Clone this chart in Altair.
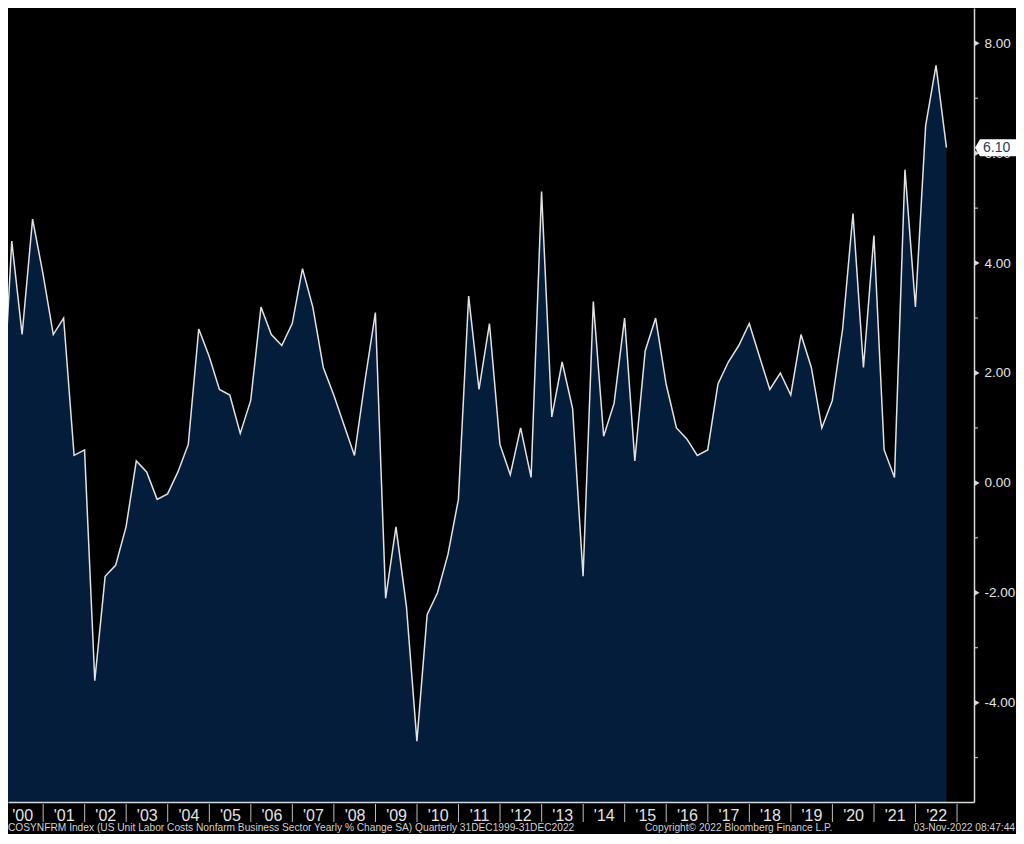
import altair as alt
import pandas as pd

# ---------------- data ----------------
quarters = pd.period_range("1999Q4", periods=92, freq="Q")
dates = [p.end_time.strftime("%Y-%m-%d") for p in quarters]

values = [
    0.9, 4.4, 2.7, 4.8,      # 1999Q4, 2000Q1-Q3
    3.8, 2.7, 3.0, 0.5,      # 2000Q4, 2001Q1-Q3
    0.6, -3.6, -1.7, -1.5,   # 2001Q4, 2002Q1-Q3
    -0.8, 0.4, 0.2, -0.3,    # 2002Q4, 2003Q1-Q3
    -0.2, 0.2, 0.7, 2.8,     # 2003Q4, 2004Q1-Q3
    2.3, 1.7, 1.6, 0.9,      # 2004Q4, 2005Q1-Q3
    1.5, 3.2, 2.7, 2.5,      # 2005Q4, 2006Q1-Q3
    2.9, 3.9, 3.2, 2.1,      # 2006Q4, 2007Q1-Q3
    1.6, 1.05, 0.5, 1.85,    # 2007Q4, 2008Q1-Q3
    3.1, -2.1, -0.8, -2.25,  # 2008Q4, 2009Q1-Q3
    -4.7, -2.4, -2.0, -1.3,  # 2009Q4, 2010Q1-Q3
    -0.3, 3.4, 1.7, 2.9,     # 2010Q4, 2011Q1-Q3
    0.7, 0.15, 1.0, 0.1,     # 2011Q4, 2012Q1-Q3
    5.3, 1.2, 2.2, 1.35,     # 2012Q4, 2013Q1-Q3
    -1.7, 3.3, 0.85, 1.45,   # 2013Q4, 2014Q1-Q3
    3.0, 0.4, 2.4, 3.0,      # 2014Q4, 2015Q1-Q3
    1.8, 1.0, 0.8, 0.5,      # 2015Q4, 2016Q1-Q3
    0.6, 1.8, 2.2, 2.5,      # 2016Q4, 2017Q1-Q3
    2.9, 2.3, 1.7, 2.0,      # 2017Q4, 2018Q1-Q3
    1.6, 2.7, 2.1, 1.0,      # 2018Q4, 2019Q1-Q3
    1.5, 2.8, 4.9, 2.1,      # 2019Q4, 2020Q1-Q3
    4.5, 0.6, 0.1, 5.7,      # 2020Q4, 2021Q1-Q3
    3.2, 6.5, 7.6, 6.1,      # 2021Q4, 2022Q1-Q3
]

year_starts = [f"{y}-01-01" for y in range(2001, 2024)]
label_years = list(range(2000, 2023))
major_ticks = [-4, -2, 0, 2, 4, 6, 8]
minor_ticks = [-5, -3, -1, 1, 3, 5, 7]
last_label = "6.10"

footer_left = ("COSYNFRM Index (US Unit Labor Costs Nonfarm Business Sector Yearly % Change SA)"
               "  Quarterly 31DEC1999-31DEC2022")
footer_mid = "Copyright\u00a9 2022 Bloomberg Finance L.P."
footer_right = "03-Nov-2022 08:47:44"

df = pd.DataFrame({"date": dates, "value": values})

# ---------------- layout / style ----------------
W, H = 966, 794
Y_MIN, Y_MAX = -5.807, 8.642
FONT = "Liberation Sans"
AREA = "#031d3a"
LINE = "#e2e2e2"
AXIS = "#d9d9d9"
TXT = "#e4e4e4"

x_scale = alt.Scale(
    type="utc",
    domain=[alt.DateTime(year=2000, month=2, date=27, utc=True),
            alt.DateTime(year=2023, month=5, date=30, utc=True)],
)
y_scale = alt.Scale(domain=[Y_MIN, Y_MAX], nice=False, zero=False)

x_axis = alt.Axis(
    values=[alt.DateTime(year=y, month=7, date=1, utc=True) for y in label_years],
    format="'%y", title=None, orient="bottom", grid=False,
    ticks=False, domainColor=AXIS, domainWidth=1.5,
    labelColor=TXT, labelFont=FONT, labelFontSize=16, labelPadding=13,
    labelBaseline="middle", labelAlign="center", labelOverlap=False,
    labelFlush=False, labelBound=False, zindex=1,
)
y_axis = alt.Axis(
    values=major_ticks, title=None, orient="right", grid=False,
    labelExpr="(datum.value < 0 ? '-' : '') + format(abs(datum.value), '.2f')",
    ticks=False, domainColor=AXIS, domainWidth=1.5,
    labelColor=TXT, labelFont=FONT, labelFontSize=13.5, labelPadding=10,
    labelBaseline="middle", labelAlign="left", labelOverlap=False,
    labelFlush=False, labelBound=False, zindex=0,
)

X = alt.X("date:T", scale=x_scale, axis=x_axis)

area = alt.Chart(df).mark_area(color=AREA, clip=True, opacity=1).encode(
    x=X,
    y=alt.Y("value:Q", scale=y_scale, axis=y_axis),
    y2=alt.datum(Y_MIN),
)

line = alt.Chart(df).mark_line(color=LINE, strokeWidth=1.5, clip=True).encode(
    x=X,
    y=alt.Y("value:Q", scale=y_scale, axis=y_axis),
)

separators = alt.Chart(pd.DataFrame({"date": year_starts})).mark_rule(
    color="#bdbdbd", strokeWidth=1
).encode(
    x=X,
    y=alt.value(H + 2),
    y2=alt.value(H + 20),
)

minor = alt.Chart(pd.DataFrame({"value": minor_ticks})).mark_rule(
    color=AXIS, strokeWidth=1
).encode(
    y=alt.Y("value:Q", scale=y_scale, axis=y_axis),
    x=alt.value(W),
    x2=alt.value(W + 4),
)

major = alt.Chart(pd.DataFrame({"value": major_ticks})).mark_point(
    shape="triangle-right", filled=True, color=AXIS, size=36, opacity=1
).encode(
    y=alt.Y("value:Q", scale=y_scale, axis=y_axis),
    x=alt.value(W + 3),
)

last_df = pd.DataFrame({"value": [values[-1]], "label": [last_label]})
box = alt.Chart(last_df).mark_point(
    shape="M0,0L0.5,-0.85L5,-0.85L5,0.85L0.5,0.85Z",
    filled=True, color="#ffffff", size=400, opacity=1, strokeWidth=0,
).encode(
    y=alt.Y("value:Q", scale=y_scale, axis=y_axis),
    x=alt.value(W + 1),
)
box_text = alt.Chart(last_df).mark_text(
    align="left", baseline="middle", font=FONT, fontSize=14, color="#1d3b66"
).encode(
    y=alt.Y("value:Q", scale=y_scale, axis=y_axis),
    x=alt.value(W + 9),
    text="label:N",
)

foot_l = alt.Chart(pd.DataFrame({"t": [footer_left]})).mark_text(
    align="left", baseline="middle", font=FONT, fontSize=10.2, color="#d0d0d0"
).encode(x=alt.value(0), y=alt.value(H + 26), text="t:N")
foot_m = alt.Chart(pd.DataFrame({"t": [footer_mid]})).mark_text(
    align="left", baseline="middle", font=FONT, fontSize=10.2, color="#d0d0d0"
).encode(x=alt.value(637), y=alt.value(H + 26), text="t:N")
foot_r = alt.Chart(pd.DataFrame({"t": [footer_right]})).mark_text(
    align="right", baseline="middle", font=FONT, fontSize=10.2, color="#d0d0d0"
).encode(x=alt.value(1007), y=alt.value(H + 26), text="t:N")

chart = alt.layer(
    area, line, separators, minor, major, box, box_text, foot_l, foot_m, foot_r
).properties(
    width=W, height=H,
    autosize=alt.AutoSizeParams(type="none"),
    padding={"left": 0, "top": 0, "right": 42, "bottom": 32},
    background="#000000",
).configure_view(strokeWidth=0)

chart.save("out.html", embed_options={"renderer": "svg", "actions": False})
